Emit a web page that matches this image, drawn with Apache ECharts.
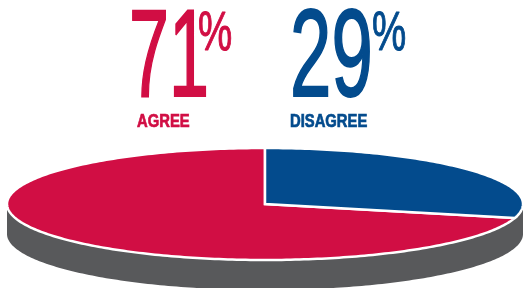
<!DOCTYPE html>
<html>
<head>
<meta charset="utf-8">
<script src="https://cdn.jsdelivr.net/npm/echarts@6/dist/echarts.min.js"></script>
<style>
  html, body { margin: 0; padding: 0; background: #fff; }
  #chart { width: 528px; height: 288px; }
</style>
</head>
<body>
<div id="chart"></div>
<script>
// answers and their shares
var categories = ['AGREE', 'DISAGREE'];
var values = [71, 29];
var colors = ['#d10e44', '#034b8d'];

var chart = echarts.init(document.getElementById('chart'), null, { renderer: 'canvas' });

// flattened "3d" pie
var cx = 265, cy = 204, rx = 258, ry = 56, depth = 30;

var total = values.reduce(function (a, b) { return a + b; }, 0);
var slices = [];
var acc = 0;
for (var i = 0; i < values.length; i++) {
    // counterclockwise from 12 o'clock, like pie with clockwise:false
    var a0 = -acc / total * 360;
    acc += values[i];
    var a1 = -acc / total * 360;
    slices.push([a0, a1]);
}

function pt(deg, dy) {
    var r = deg * Math.PI / 180;
    return [cx + rx * Math.sin(r), cy - ry * Math.cos(r) + (dy || 0)];
}

function renderSlice(params, api) {
    var s = slices[params.dataIndex];
    var pts = [[cx, cy]];
    var n = Math.max(2, Math.ceil(Math.abs(s[1] - s[0])));
    for (var k = 0; k <= n; k++) {
        pts.push(pt(s[0] + (s[1] - s[0]) * k / n));
    }
    return {
        type: 'polygon',
        shape: { points: pts },
        style: {
            fill: colors[params.dataIndex],
            stroke: '#fff',
            lineWidth: 2.5,
            lineJoin: 'miter'
        }
    };
}

function renderSide(params, api) {
    var pts = [];
    for (var d = 90; d <= 270; d++) pts.push(pt(d));
    for (var d2 = 270; d2 >= 90; d2--) pts.push(pt(d2, depth));
    return {
        type: 'polygon',
        shape: { points: pts },
        style: { fill: '#58595b' }
    };
}

function bigText(x, y, text, color, size, sx, weight) {
    return {
        type: 'text',
        x: x,
        y: y,
        scaleX: sx,
        style: {
            text: text,
            fill: color,
            stroke: color,
            lineWidth: weight,
            font: 'normal ' + size + 'px "Liberation Sans", Arial, sans-serif',
            align: 'left',
            verticalAlign: 'middle'
        }
    };
}

function label(x, y, text, color) {
    return {
        type: 'text',
        x: x,
        y: y,
        scaleX: 0.8,
        style: {
            text: text,
            fill: color,
            stroke: color,
            lineWidth: 0.7,
            font: 'bold 18.5px "Liberation Sans", Arial, sans-serif',
            align: 'left',
            verticalAlign: 'middle'
        }
    };
}

chart.setOption({
    animation: false,
    graphic: [
        bigText(129, 62, String(values[0]), colors[0], 124, 0.58, 2),
        bigText(198, 35, '%', colors[0], 55, 0.7, 1),
        label(137, 122, categories[0], colors[0]),
        bigText(290, 62, String(values[1]), colors[1], 124, 0.6, 2),
        bigText(372, 35, '%', colors[1], 55, 0.7, 1),
        label(290, 122, categories[1], colors[1])
    ],
    series: [
        {
            type: 'custom',
            coordinateSystem: 'none',
            renderItem: renderSide,
            data: [0],
            silent: true
        },
        {
            type: 'custom',
            coordinateSystem: 'none',
            renderItem: renderSlice,
            data: values.map(function (v, i) { return { name: categories[i], value: v }; })
        }
    ]
});
</script>
</body>
</html>
